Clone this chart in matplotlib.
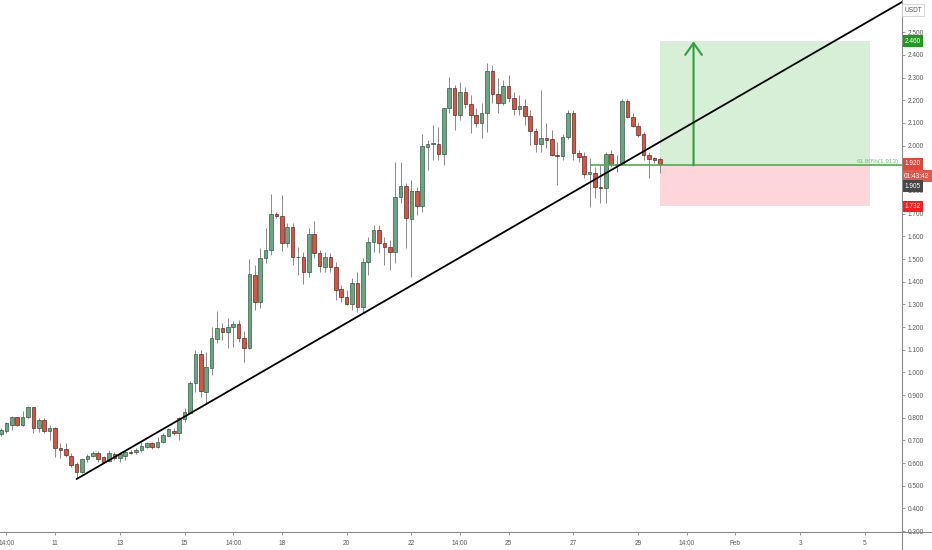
import numpy as np
import pandas as pd
import matplotlib
matplotlib.use("Agg")
import matplotlib.pyplot as plt
import matplotlib.dates as mdates
from matplotlib.patches import Rectangle
from matplotlib.lines import Line2D

# ---------------- data (4h candles, USDT) ----------------
opens = [
    .728, .743, .769, .802, .768, .802, .846, .754, .790, .743,
    .755, .668, .661, .631, .596, .562, .617, .631, .643, .626,
    .611, .639, .624, .633, .648, .647, .658, .672, .687, .670,
    .692, .721, .742, .732, .795, .822, .955, 1.080, .915, 1.021,
    1.149, 1.197, 1.179, 1.199, 1.213, 1.153, 1.109, 1.430, 1.309, 1.503,
    1.540, 1.697, 1.690, 1.569, 1.643, 1.510, 1.510, 1.444, 1.610, 1.525,
    1.466, 1.508, 1.466, 1.366, 1.331, 1.300, 1.396, 1.290, 1.488, 1.576,
    1.628, 1.569, 1.554, 1.532, 1.773, 1.822, 1.676, 1.801, 1.735, 1.993,
    2.006, 2.007, 1.962, 2.165, 2.253, 2.135, 2.235, 2.182, 2.135, 2.098,
    2.145, 2.329, 2.226, 2.187, 2.263, 2.209, 2.160, 2.175, 2.130, 2.064,
    2.007, 2.032, 2.028, 1.958, 1.954, 2.036, 2.145, 1.969, 1.954, 1.873,
    1.880, 1.819, 1.814, 1.962, 1.916, 1.918, 2.198, 2.127, 2.086, 2.051,
    1.958, 1.944, 1.942]
highs = [
    .755, .783, .808, .805, .831, .853, .849, .798, .798, .768,
    .758, .688, .690, .643, .606, .621, .640, .655, .655, .631,
    .658, .649, .650, .658, .658, .667, .694, .693, .693, .717,
    .733, .755, .754, .805, .842, .962, 1.099, 1.099, 1.091, 1.202,
    1.271, 1.218, 1.240, 1.228, 1.231, 1.182, 1.499, 1.474, 1.547, 1.635,
    1.787, 1.707, 1.782, 1.657, 1.657, 1.554, 1.532, 1.635, 1.668, 1.540,
    1.532, 1.525, 1.488, 1.385, 1.363, 1.415, 1.444, 1.503, 1.598, 1.650,
    1.650, 1.598, 1.584, 1.929, 1.929, 1.834, 1.848, 1.819, 2.051, 2.025,
    2.091, 2.083, 2.168, 2.304, 2.267, 2.282, 2.260, 2.223, 2.165, 2.187,
    2.363, 2.355, 2.297, 2.289, 2.311, 2.238, 2.223, 2.204, 2.157, 2.076,
    2.245, 2.098, 2.069, 2.017, 2.051, 2.157, 2.157, 1.981, 1.974, 1.944,
    1.906, 1.914, 1.974, 1.981, 1.959, 2.204, 2.204, 2.144, 2.105, 2.061,
    1.974, 1.951, 1.951]
lows = [
    .720, .734, .746, .764, .764, .798, .732, .739, .732, .702,
    .627, .621, .627, .584, .534, .555, .606, .628, .606, .599,
    .606, .614, .606, .614, .639, .639, .650, .667, .662, .667,
    .689, .720, .724, .702, .783, .820, .915, .893, .864, .989,
    1.128, 1.143, 1.108, 1.113, 1.135, 1.047, 1.103, 1.275, 1.283, 1.481,
    1.518, 1.681, 1.537, 1.554, 1.474, 1.430, 1.388, 1.422, 1.503, 1.444,
    1.444, 1.444, 1.319, 1.312, 1.297, 1.275, 1.268, 1.261, 1.430, 1.532,
    1.525, 1.474, 1.452, 1.481, 1.746, 1.547, 1.422, 1.694, 1.709, 1.892,
    1.937, 1.937, 1.914, 2.144, 2.069, 2.113, 2.165, 2.057, 2.083, 2.032,
    2.061, 2.187, 2.144, 2.179, 2.194, 2.135, 2.135, 2.091, 2.002, 1.974,
    1.974, 1.988, 1.955, 1.826, 1.937, 2.027, 1.937, 1.929, 1.856, 1.731,
    1.767, 1.746, 1.746, 1.906, 1.884, 1.914, 2.120, 2.080, 2.039, 1.937,
    1.856, 1.922, 1.878]
closes = [
    .746, .776, .802, .768, .805, .846, .754, .790, .743, .755,
    .667, .658, .634, .592, .562, .617, .631, .643, .619, .606,
    .643, .621, .639, .648, .646, .658, .677, .687, .672, .694,
    .724, .749, .732, .798, .827, .955, 1.081, .919, 1.024, 1.150,
    1.197, 1.179, 1.202, 1.213, 1.150, 1.109, 1.432, 1.312, 1.503, 1.540,
    1.697, 1.691, 1.569, 1.643, 1.508, 1.508, 1.444, 1.610, 1.525, 1.469,
    1.508, 1.466, 1.363, 1.331, 1.300, 1.396, 1.290, 1.488, 1.576, 1.628,
    1.569, 1.554, 1.532, 1.773, 1.822, 1.680, 1.801, 1.735, 1.998, 2.007,
    2.011, 1.962, 2.165, 2.253, 2.135, 2.235, 2.182, 2.135, 2.098, 2.145,
    2.329, 2.226, 2.187, 2.263, 2.209, 2.160, 2.175, 2.130, 2.064, 2.007,
    2.032, 2.025, 1.958, 1.954, 2.036, 2.145, 1.969, 1.949, 1.873, 1.885,
    1.819, 1.812, 1.962, 1.918, 1.920, 2.198, 2.127, 2.086, 2.047, 1.958,
    1.942, 1.937, 1.918]
first_candle = "2021-01-09 08:00"

x_tick_times = ["2021-01-09 12:00", "2021-01-11", "2021-01-13", "2021-01-15",
                "2021-01-16 12:00", "2021-01-18", "2021-01-20", "2021-01-22",
                "2021-01-23 12:00", "2021-01-25", "2021-01-27", "2021-01-29",
                "2021-01-30 12:00", "2021-02-01", "2021-02-03", "2021-02-05"]
x_tick_labels = ["14:00", "11", "13", "15", "14:00", "18", "20", "22",
                 "14:00", "25", "27", "29", "14:00", "Feb", "3", "5"]
y_ticks = [0.3, 0.4, 0.5, 0.6, 0.7, 0.8, 0.9, 1.0, 1.1, 1.2, 1.3, 1.4,
           1.5, 1.6, 1.7, 1.8, 1.9, 2.0, 2.1, 2.2, 2.3, 2.4, 2.5]

# trade setup
entry_price = 1.913
target_price = 2.460
stop_price = 1.732
position_start = "2021-01-29 16:00"
position_end = "2021-02-05 04:00"
arrow_time = "2021-01-30 17:00"
fib_start = "2021-01-27 12:00"
fib_label = "61.80%(1.913)"
trend_p1 = ("2021-01-11 16:00", 0.530)
trend_p2 = ("2021-01-30 17:00", 2.102)

# price-axis labels
lbl_target = "2.460"
lbl_close = "1.920"
lbl_close_val = 1.920
lbl_timer = "01:43:42"
lbl_last = "1.905"
lbl_stop = "1.732"

# ---------------- figure ----------------
W, H = 932, 550
AX_X, AX_Y = 901.7, 532.0
fig = plt.figure(figsize=(W / 100, H / 100), dpi=100)
fig.patch.set_facecolor("white")
ax = fig.add_axes([0, (H - AX_Y) / H, AX_X / W, AX_Y / H])
ax.set_facecolor("white")

FONT = "Liberation Sans"
TXT = "#5a5a5a"
FS = 4.7

t = mdates.date2num(pd.date_range(first_candle, periods=len(opens), freq="4h"))
o = np.array(opens); h = np.array(highs); l = np.array(lows); c = np.array(closes)
up = c >= o

ax.set_xlim(mdates.date2num(pd.Timestamp("2021-01-09 07:15")),
            mdates.date2num(pd.Timestamp("2021-02-06 03:11")))
ax.set_ylim(0.2963, 2.642)

def dn(s):
    return mdates.date2num(pd.Timestamp(s))

# position tool zones
ps, pe = dn(position_start), dn(position_end)
ax.add_patch(Rectangle((ps, entry_price), pe - ps, target_price - entry_price,
                       fc="#d7efd7", ec="none", zorder=1))
ax.add_patch(Rectangle((ps, stop_price), pe - ps, entry_price - stop_price,
                       fc="#fcd6da", ec="none", zorder=1))

# candles
ax.vlines(t, np.minimum(l, np.minimum(o, c)), np.maximum(h, np.maximum(o, c)),
          color="#8a8a8c", lw=0.7, zorder=2)
body_bottom = np.minimum(o, c)
body_h = np.maximum(np.abs(c - o), 0.003)
ax.bar(t, body_h, bottom=body_bottom, width=0.115,
       color=np.where(up, "#6ba583", "#d75442"),
       edgecolor=np.where(up, "#225437", "#5b1a13"),
       linewidth=0.45, zorder=3)

# fib line
xr = ax.get_xlim()[1]
ax.plot([dn(fib_start), xr], [entry_price, entry_price], color="#4caf50",
        lw=1.2, zorder=4, solid_capstyle="butt")
ax.annotate(fib_label, xy=(1.0, entry_price), xycoords=("axes fraction", "data"),
            xytext=(-3, 1), textcoords="offset pixels", ha="right", va="bottom",
            fontsize=4.6, color="#6cc070", family=FONT, zorder=5)

# trend line (extended to the right)
x1, y1 = dn(trend_p1[0]), trend_p1[1]
x2, y2 = dn(trend_p2[0]), trend_p2[1]
slope = (y2 - y1) / (x2 - x1)
xe = xr + 2
ax.plot([x1, xe], [y1, y1 + slope * (xe - x1)], color="black", lw=1.3,
        zorder=6, solid_capstyle="round")

# target arrow
xa = dn(arrow_time)
ax.annotate("", xy=(xa, target_price), xytext=(xa, entry_price),
            arrowprops=dict(arrowstyle="->,head_length=0.85,head_width=0.6",
                            color="#2f9e3c", lw=1.5, shrinkA=0, shrinkB=0),
            zorder=5)

# axes styling
for s in ax.spines.values():
    s.set_visible(False)
ax.yaxis.tick_right()
ax.set_yticks(y_ticks)
ax.set_yticklabels([f"{v:.3f}" for v in y_ticks])
ax.tick_params(axis="y", direction="out", length=2.5, width=0.6, color="#8c8c8c",
               pad=1.5, labelsize=FS, labelcolor=TXT)
ax.set_xticks([dn(s) for s in x_tick_times])
ax.set_xticklabels(x_tick_labels)
ax.tick_params(axis="x", direction="out", length=2.5, width=0.6, color="#8c8c8c",
               pad=3.5, labelsize=FS, labelcolor=TXT)
for lab in ax.get_xticklabels() + ax.get_yticklabels():
    lab.set_family(FONT)

# full-length axis lines
fig.add_artist(Line2D([AX_X / W, AX_X / W], [0, 1], color="#8c8c8c", lw=0.8,
                      transform=fig.transFigure))
fig.add_artist(Line2D([0, 1], [(H - AX_Y) / H] * 2, color="#8c8c8c", lw=0.8,
                      transform=fig.transFigure))

# price labels on the axis
def price_box(text, price, fc, dy=0, fg="white"):
    ax.annotate(text, xy=(1.0, price), xycoords=("axes fraction", "data"),
                xytext=(2.5, dy), textcoords="offset pixels", ha="left", va="center",
                fontsize=FS, color=fg, family=FONT, annotation_clip=False,
                bbox=dict(boxstyle="square,pad=0.35", fc=fc, ec="none"), zorder=10)

price_box(lbl_target, target_price, "#1e9a1e")
price_box(lbl_close, lbl_close_val, "#e0463a")
price_box(lbl_timer, lbl_close_val, "#e05a4c", dy=-12.5)
price_box(lbl_last, lbl_close_val, "#474747", dy=-22.5)
price_box(lbl_stop, stop_price, "#ff1c1c")

fig.text(913 / W, 1 - 10 / H, "USDT", ha="center", va="center", fontsize=FS,
         color=TXT, family=FONT,
         bbox=dict(boxstyle="square,pad=0.35", fc="white", ec="#d0d0d0", lw=0.6))

fig.savefig("out.png", dpi=100, facecolor="white")
